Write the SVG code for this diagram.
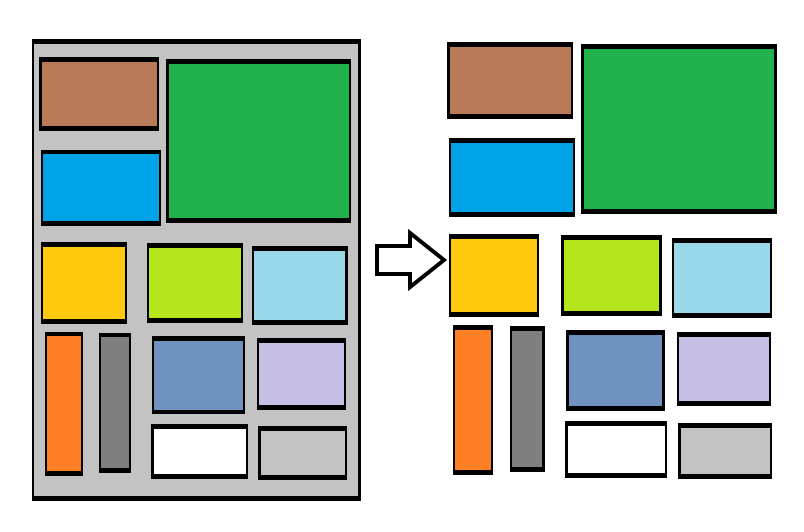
<svg xmlns="http://www.w3.org/2000/svg" width="804" height="532" viewBox="0 0 804 532">
<style>
.k{fill:#000}
.br{fill:#B97A57}.gr{fill:#22B14C}.bl{fill:#00A2E8}.ye{fill:#FFC90E}.li{fill:#B5E61D}
.lb{fill:#99D9EA}.or{fill:#FF7F27}.gy{fill:#7F7F7F}.sb{fill:#7092BE}.la{fill:#C8BFE7}
.wh{fill:#FFFFFF}.si{fill:#C3C3C3}
</style>
<rect width="804" height="532" fill="#fff"/>
<g id="container">
<rect class="k" x="32" y="39" width="329" height="462"/>
<rect class="si" x="34" y="44" width="324" height="452"/>
</g>
<g id="left">
<g id="l-brown"><rect class="k" x="39" y="57" width="120" height="74"/><rect class="br" x="42" y="62" width="115" height="64"/></g>
<g id="l-blue"><rect class="k" x="41" y="150" width="120" height="76"/><rect class="bl" x="43" y="154" width="116" height="67"/></g>
<g id="l-green"><rect class="k" x="166" y="59" width="185" height="164"/><rect class="gr" x="169" y="64" width="180" height="154"/></g>
<g id="l-yellow"><rect class="k" x="41" y="242" width="86" height="82"/><rect class="ye" x="43" y="247" width="82" height="72"/></g>
<g id="l-lime"><rect class="k" x="147" y="243" width="96" height="80"/><rect class="li" x="149" y="248" width="92" height="70"/></g>
<g id="l-lightblue"><rect class="k" x="252" y="246" width="96" height="79"/><rect class="lb" x="254" y="251" width="91" height="69"/></g>
<g id="l-orange"><rect class="k" x="45" y="332" width="38" height="144"/><rect class="or" x="47" y="336" width="34" height="135"/></g>
<g id="l-gray"><rect class="k" x="99" y="333" width="32" height="140"/><rect class="gy" x="101" y="337" width="28" height="131"/></g>
<g id="l-steel"><rect class="k" x="152" y="336" width="93" height="78"/><rect class="sb" x="154" y="341" width="89" height="69"/></g>
<g id="l-lavender"><rect class="k" x="257" y="338" width="89" height="72"/><rect class="la" x="259" y="343" width="85" height="62"/></g>
<g id="l-white"><rect class="k" x="151" y="424" width="97" height="55"/><rect class="wh" x="154" y="429" width="92" height="45"/></g>
<g id="l-silver"><rect class="k" x="258" y="426" width="89" height="54"/><rect class="si" x="261" y="431" width="84" height="44"/></g>
</g>
<g id="arrow">
<polygon points="377,246 410,246 410,233 444,260 410,287 410,274 377,274" fill="#fff" stroke="#000" stroke-width="4" stroke-linejoin="miter"/>
</g>
<g id="right">
<g id="r-brown"><rect class="k" x="447" y="42" width="126" height="77"/><rect class="br" x="450" y="47" width="121" height="67"/></g>
<g id="r-blue"><rect class="k" x="449" y="138" width="126" height="79"/><rect class="bl" x="451" y="143" width="122" height="69"/></g>
<g id="r-green"><rect class="k" x="581" y="44" width="196" height="170"/><rect class="gr" x="584" y="49" width="190" height="160"/></g>
<g id="r-yellow"><rect class="k" x="449" y="234" width="90" height="83"/><rect class="ye" x="451" y="239" width="86" height="73"/></g>
<g id="r-lime"><rect class="k" x="561" y="235" width="101" height="81"/><rect class="li" x="564" y="240" width="95" height="71"/></g>
<g id="r-lightblue"><rect class="k" x="672" y="238" width="100" height="80"/><rect class="lb" x="674" y="243" width="96" height="70"/></g>
<g id="r-orange"><rect class="k" x="453" y="325" width="40" height="150"/><rect class="or" x="455" y="330" width="36" height="140"/></g>
<g id="r-gray"><rect class="k" x="510" y="326" width="35" height="146"/><rect class="gy" x="512" y="331" width="30" height="136"/></g>
<g id="r-steel"><rect class="k" x="566" y="330" width="99" height="81"/><rect class="sb" x="569" y="335" width="93" height="71"/></g>
<g id="r-lavender"><rect class="k" x="677" y="332" width="94" height="74"/><rect class="la" x="679" y="337" width="90" height="64"/></g>
<g id="r-white"><rect class="k" x="565" y="421" width="102" height="57"/><rect class="wh" x="568" y="426" width="97" height="47"/></g>
<g id="r-silver"><rect class="k" x="678" y="423" width="94" height="56"/><rect class="si" x="681" y="428" width="89" height="46"/></g>
</g>
</svg>
